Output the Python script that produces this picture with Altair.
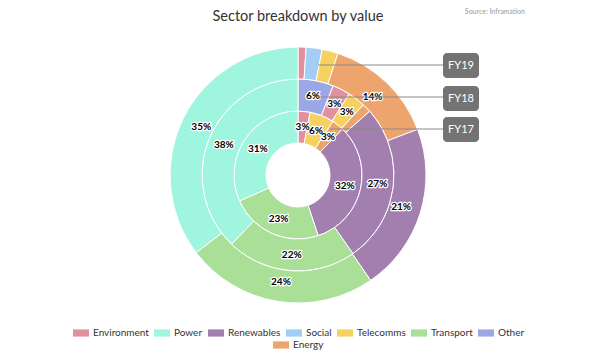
import altair as alt
import pandas as pd

# legend order
categories = ["Environment", "Power", "Renewables", "Social", "Telecomms", "Transport", "Other", "Energy"]
colors = ["#e0909f", "#a0f5de", "#a27fae", "#a3cdf5", "#f7d160", "#a9df96", "#9ca8e6", "#eea46d"]

# clockwise slice order (from 12 o'clock)
slice_order = ["Other", "Environment", "Social", "Telecomms", "Energy", "Renewables", "Transport", "Power"]
fy17 = [0, 3, 0, 6, 3, 32, 23, 31]
fy18 = [6, 3, 0, 3, 1.5, 27, 22, 38]
fy19 = [0, 1, 2, 2, 14, 21, 24, 35]
rings = ["FY17", "FY18", "FY19"]

rows = []
for ring, vals in zip(rings, [fy17, fy18, fy19]):
    for i, (cat, v) in enumerate(zip(slice_order, vals)):
        if v > 0:
            rows.append({"ring": ring, "cat": cat, "ord": i, "value": v})
df = pd.DataFrame(rows)

CX, CY = 290, 167
ring_geom = {"FY17": (32, 64, 48), "FY18": (64, 96, 80), "FY19": (96, 128, 108)}

rect_path = "M-1,-0.45L1,-0.45L1,0.45L-1,0.45Z"
legend_common = dict(
    title=None, labelFont="Lato", labelFontSize=10, labelColor="#333333",
    symbolType=rect_path, symbolSize=256, symbolStrokeWidth=0,
    symbolOpacity=1, labelOffset=4,
)
color = alt.Color(
    "cat:N",
    scale=alt.Scale(domain=categories, range=colors),
    legend=alt.Legend(
        values=categories[:7], orient="none", legendX=65, legendY=317,
        direction="horizontal", columns=7, columnPadding=5, **legend_common,
    ),
)


def ring_base(ring):
    return (
        alt.Chart(df)
        .transform_filter(alt.datum.ring == ring)
        .transform_joinaggregate(total="sum(value)")
        .transform_calculate(
            frac="datum.value / datum.total",
            label="datum.value >= 3 ? datum.value + '%' : ''",
        )
    )


theta = alt.Theta("frac:Q", stack=True, scale=alt.Scale(domain=[0, 1]))
order = alt.Order("ord:Q", sort="ascending")

layers = []
for ring in rings:
    r0, r1, rl = ring_geom[ring]
    layers.append(
        ring_base(ring)
        .mark_arc(radius=r1, radius2=r0, x=CX, y=CY, stroke="white", strokeWidth=1)
        .encode(theta=theta, order=order, color=color)
    )

for ring in rings:
    r0, r1, rl = ring_geom[ring]
    base = ring_base(ring)
    halo = base.mark_text(radius=rl, x=CX, y=CY, font="Lato", fontSize=10, fontWeight="bold",
                          stroke="white", strokeWidth=2.5, strokeJoin="round", fill="white").encode(
        theta=theta, order=order, text="label:N")
    txt = base.mark_text(radius=rl, x=CX, y=CY, font="Lato", fontSize=10, fontWeight="bold",
                         fill="black").encode(theta=theta, order=order, text="label:N")
    layers += [halo, txt]

# FY callouts
one = pd.DataFrame({"a": [0]})
fy_labels = ["FY19", "FY18", "FY17"]
line_start_x = [310, 309, 322]
line_y = [57, 89, 121]
box_top = [45, 78, 109]
for lab, lx, ly, bt in zip(fy_labels, line_start_x, line_y, box_top):
    layers.append(alt.Chart(one).mark_rule(color="#8a8a8a", strokeWidth=1).encode(
        x=alt.value(lx), x2=alt.value(435), y=alt.value(ly)))
    layers.append(alt.Chart(one).mark_rect(cornerRadius=4, color="#737373").encode(
        x=alt.value(435), x2=alt.value(471), y=alt.value(bt), y2=alt.value(bt + 25)))
    layers.append(alt.Chart(one).mark_text(color="white", font="Lato", fontSize=11).encode(
        x=alt.value(453), y=alt.value(bt + 12.5), text=alt.value(lab)))

# Energy legend (second, centred row)
energy_leg = alt.Chart(pd.DataFrame({"cat": ["Energy"]})).mark_point(filled=True, size=0, opacity=0).encode(
    fill=alt.Fill("cat:N", scale=alt.Scale(domain=["Energy"], range=[colors[7]]),
                  legend=alt.Legend(orient="none", legendX=265, legendY=329, **legend_common)),
    x=alt.value(0), y=alt.value(0),
)
layers.append(energy_leg)

# title and source
layers.append(alt.Chart(one).mark_text(font="Lato", fontSize=14.5, color="#333333", baseline="middle").encode(
    x=alt.value(290), y=alt.value(9), text=alt.value("Sector breakdown by value")))
layers.append(alt.Chart(one).mark_text(font="Lato", fontSize=7, color="#999999", align="right", baseline="top").encode(
    x=alt.value(517), y=alt.value(0), text=alt.value("Source: Inframation")))

chart = alt.layer(*layers).properties(
    width=584, height=344, padding=0,
    autosize=alt.AutoSizeParams(type="none"),
).configure_view(stroke=None)

chart.save("out.html", embed_options={"renderer": "svg", "actions": False})
